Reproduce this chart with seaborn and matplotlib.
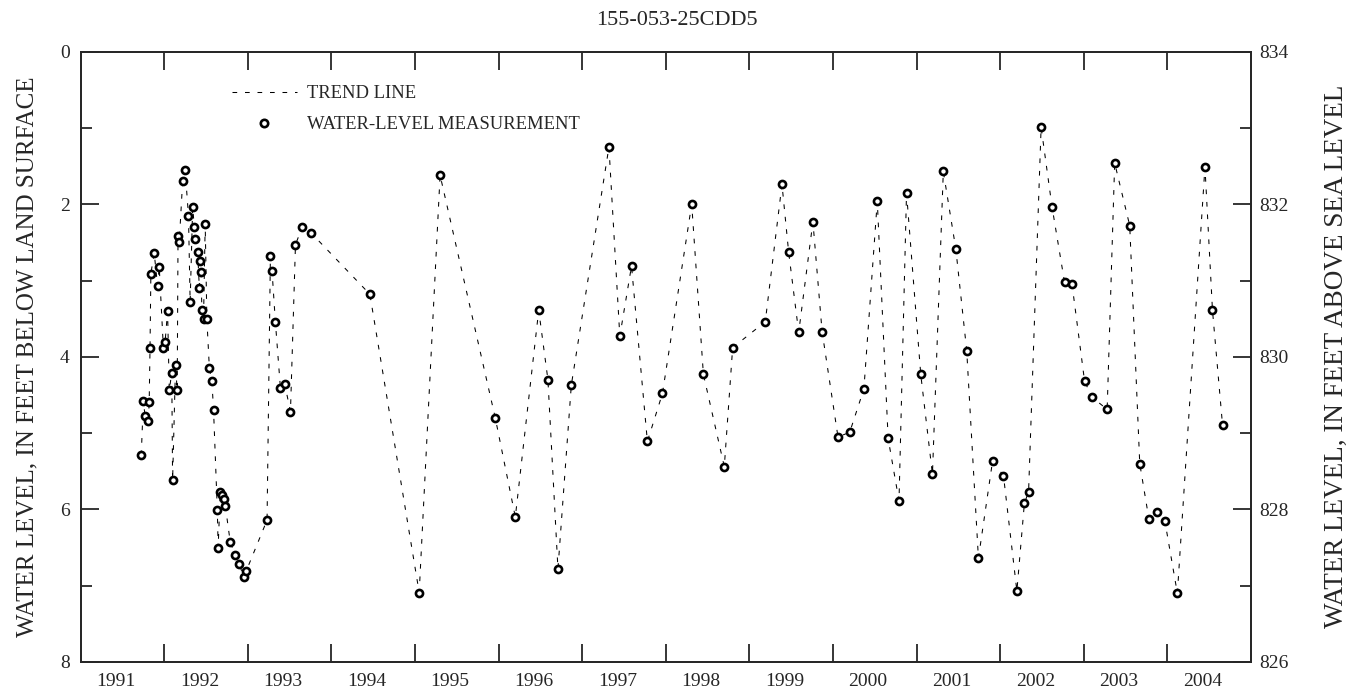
import numpy as np
import pandas as pd
import matplotlib
matplotlib.use('Agg')
import matplotlib.pyplot as plt
from matplotlib.lines import Line2D
from matplotlib.ticker import FixedLocator, NullFormatter, FixedFormatter
import seaborn as sns

# well and land surface altitude (ft above sea level)
well_id = '155-053-25CDD5'
land_surface = 834

# measurement dates (decimal years) and depth to water (ft below land surface)
years = [
    1991.725, 1991.75, 1991.77, 1991.81, 1991.82, 1991.83, 1991.84, 1991.88, 1991.92, 1991.94,
    1991.99, 1992.01, 1992.04, 1992.06, 1992.09, 1992.10, 1992.135, 1992.155, 1992.165, 1992.18,
    1992.22, 1992.25, 1992.29, 1992.31, 1992.34, 1992.36, 1992.37, 1992.40, 1992.42, 1992.43,
    1992.44, 1992.45, 1992.47, 1992.49, 1992.51, 1992.54, 1992.57, 1992.59, 1992.635, 1992.645,
    1992.67, 1992.69, 1992.72, 1992.73, 1992.79, 1992.85, 1992.90, 1992.95, 1992.98, 1993.23,
    1993.27, 1993.29, 1993.33, 1993.39, 1993.44, 1993.51, 1993.57, 1993.65, 1993.76, 1994.46,
    1995.05, 1995.30, 1995.96, 1996.20, 1996.48, 1996.59, 1996.71, 1996.87, 1997.32, 1997.45,
    1997.59, 1997.78, 1997.96, 1998.31, 1998.45, 1998.70, 1998.80, 1999.19, 1999.39, 1999.47,
    1999.59, 1999.76, 1999.87, 2000.06, 2000.20, 2000.37, 2000.53, 2000.66, 2000.79, 2000.88,
    2001.05, 2001.19, 2001.32, 2001.47, 2001.60, 2001.74, 2001.91, 2002.04, 2002.20, 2002.29,
    2002.34, 2002.49, 2002.62, 2002.77, 2002.86, 2003.01, 2003.10, 2003.28, 2003.37, 2003.55,
    2003.67, 2003.78, 2003.88, 2003.97, 2004.12, 2004.45, 2004.54, 2004.66,
]
depths = [
    5.29, 4.58, 4.77, 4.84, 4.59, 3.88, 2.91, 2.64, 3.07, 2.82,
    3.89, 3.81, 3.40, 4.44, 4.21, 5.62, 4.11, 4.44, 2.42, 2.49,
    1.70, 1.55, 2.15, 3.28, 2.04, 2.30, 2.45, 2.63, 3.10, 2.75,
    2.89, 3.38, 3.51, 2.26, 3.51, 4.15, 4.32, 4.70, 6.01, 6.50,
    5.77, 5.81, 5.86, 5.95, 6.43, 6.60, 6.72, 6.89, 6.81, 6.14,
    2.68, 2.88, 3.55, 4.41, 4.35, 4.72, 2.53, 2.30, 2.38, 3.18,
    7.09, 1.62, 4.80, 6.10, 3.39, 4.30, 6.78, 4.37, 1.25, 3.73,
    2.81, 5.11, 4.48, 2.00, 4.23, 5.44, 3.88, 3.54, 1.74, 2.63,
    3.68, 2.23, 3.67, 5.05, 4.99, 4.42, 1.96, 5.07, 5.89, 1.85,
    4.23, 5.54, 1.57, 2.59, 3.92, 6.64, 5.36, 5.56, 7.07, 5.92,
    5.77, 0.99, 2.03, 3.02, 3.05, 4.32, 4.53, 4.69, 1.46, 2.28,
    5.40, 6.13, 6.03, 6.15, 7.10, 1.51, 3.39, 4.89,
]

year_labels = list(range(1991, 2005))
year_ticks = list(range(1992, 2005))
depth_ticks = [0, 2, 4, 6, 8]
depth_minor = [1, 3, 5, 7]
alt_ticks = [826, 828, 830, 832, 834]
alt_minor = [827, 829, 831, 833]

df = pd.DataFrame({'year': years, 'depth': depths})

sns.set_theme(style='ticks')
plt.rcParams['font.family'] = ['Liberation Serif', 'DejaVu Serif']
plt.rcParams['axes.linewidth'] = 1.3

fig = plt.figure(figsize=(13.6, 6.96), dpi=100)
ax = fig.add_axes([0.0593, 0.0489, 0.8605, 0.8769])

sns.lineplot(data=df, x='year', y='depth', estimator=None, sort=False, ax=ax,
             color='black', lw=0.75, linestyle=(0, (4.5, 7.5)))
sns.scatterplot(data=df, x='year', y='depth', ax=ax, marker='o', s=26,
                facecolor='white', edgecolor='black', linewidth=1.9, zorder=3)

ax.set_xlim(1991, 2005)
ax.set_ylim(8, 0)

# year ticks at boundaries, labels centred in each year
ax.xaxis.set_major_locator(FixedLocator(year_ticks))
ax.xaxis.set_major_formatter(NullFormatter())
ax.xaxis.set_minor_locator(FixedLocator([y + 0.42 for y in year_labels]))
ax.xaxis.set_minor_formatter(FixedFormatter([str(y) for y in year_labels]))
ax.tick_params(axis='x', which='major', direction='in', length=13, width=1.3, top=True)
ax.tick_params(axis='x', which='minor', length=0, pad=8, labelsize=14, top=False)

ax.yaxis.set_major_locator(FixedLocator(depth_ticks))
ax.yaxis.set_minor_locator(FixedLocator(depth_minor))
ax.tick_params(axis='y', which='major', direction='in', length=13, width=1.3, pad=8, labelsize=14)
ax.tick_params(axis='y', which='minor', direction='in', length=8, width=1.3)

ax.set_xlabel('')
ax.set_ylabel('WATER LEVEL, IN FEET BELOW LAND SURFACE', fontsize=18)
ax.yaxis.set_label_coords(-0.036, 0.5)

ax2 = ax.twinx()
ax2.set_ylim(land_surface - 8, land_surface - 0)
ax2.yaxis.set_major_locator(FixedLocator(alt_ticks))
ax2.yaxis.set_minor_locator(FixedLocator(alt_minor))
ax2.tick_params(axis='y', which='major', direction='in', length=13, width=1.3, pad=6, labelsize=14)
ax2.tick_params(axis='y', which='minor', direction='in', length=8, width=1.3)
ax2.set_ylabel('WATER LEVEL, IN FEET ABOVE SEA LEVEL', fontsize=19.5, rotation=90)
ax2.yaxis.set_label_coords(1.062, 0.5)

ax.set_title(well_id, fontsize=16, pad=19, x=0.5095)

handles = [
    Line2D([], [], color='black', lw=0.75, linestyle=(0, (4.5, 7.5))),
    Line2D([], [], color='black', lw=0, marker='o', markersize=5.3,
           markerfacecolor='white', markeredgecolor='black', markeredgewidth=1.9),
]
ax.legend(handles, ['TREND LINE', 'WATER-LEVEL MEASUREMENT'], frameon=False,
          loc='upper left', bbox_to_anchor=(0.129, 0.945), fontsize=13.4,
          handlelength=3.5, handletextpad=0.54, labelspacing=0.74,
          borderpad=0, borderaxespad=0)

plt.savefig('out.png', dpi=100)
